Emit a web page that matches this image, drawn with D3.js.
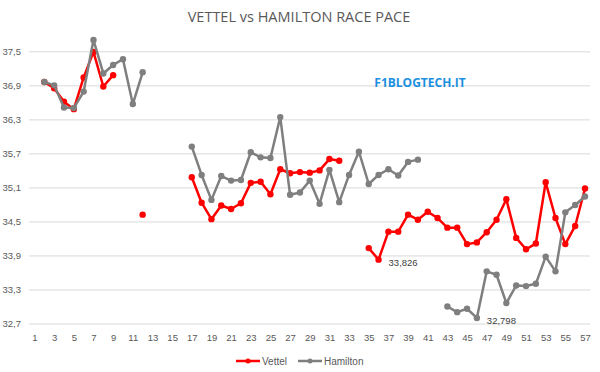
<!DOCTYPE html>
<html>
<head>
<meta charset="utf-8">
<script src="https://cdn.jsdelivr.net/npm/d3@7"></script>
<style>
  body { margin: 0; background: #fff; }
  svg { display: block; font-family: "Liberation Sans", Arial, sans-serif; }
</style>
</head>
<body>
<div id="chart"></div>
<script>
// lap numbers 1..57, null = no lap time (pit / missing)
const laps = d3.range(1, 58);

const vettel = [
    null, 36.96, 36.85, 36.61, 36.48, 37.04, 37.49, 36.88, 37.08, null,
    null, 34.62, null, null, null, null, 35.28, 34.83, 34.54, 34.78,
    34.72, 34.82, 35.18, 35.20, 34.98, 35.42, 35.35, 35.37, 35.36, 35.40,
    35.60, 35.57, null, null, 34.03, 33.826, 34.32, 34.32, 34.62, 34.53,
    34.67, 34.56, 34.39, 34.39, 34.10, 34.13, 34.31, 34.53, 34.89, 34.21,
    34.01, 34.11, 35.19, 34.56, 34.10, 34.42, 35.08
];

const hamilton = [
    null, 36.96, 36.90, 36.51, 36.50, 36.79, 37.70, 37.11, 37.26, 37.36,
    36.57, 37.13, null, null, null, null, 35.82, 35.32, 34.88, 35.30,
    35.22, 35.23, 35.72, 35.63, 35.62, 36.34, 34.97, 35.01, 35.22, 34.81,
    35.41, 34.84, 35.32, 35.73, 35.16, 35.32, 35.42, 35.31, 35.55, 35.59,
    null, null, 33.00, 32.90, 32.96, 32.798, 33.62, 33.56, 33.06, 33.37,
    33.36, 33.40, 33.88, 33.62, 34.66, 34.79, 34.94
];

const xTicks = d3.range(1, 58, 2);
const yTicks = [32.7, 33.3, 33.9, 34.5, 35.1, 35.7, 36.3, 36.9, 37.5];

// the two values Excel labelled
const labels = [
    { lap: 36, value: 33.826, text: "33,826" },
    { lap: 46, value: 32.798, text: "32,798" }
];

const series = [
    { name: "Vettel", values: vettel, color: "#ff0000" },
    { name: "Hamilton", values: hamilton, color: "#7f7f7f" }
];

const width = 600, height = 372;
const plotLeft = 29, plotRight = 590;

const svg = d3.select("#chart").append("svg")
    .attr("width", width)
    .attr("height", height);

const x = d3.scaleLinear().domain([1, 57]).range([34.5, 585]);
const y = d3.scaleLinear().domain([32.7, 38.1]).range([323.5, 17.3]);

const fmt = v => d3.format(".1f")(v).replace(".", ",");

// gridlines + y labels
const yAxis = svg.append("g")
    .attr("transform", `translate(${plotLeft},0)`)
    .call(d3.axisLeft(y).tickValues(yTicks).tickFormat(fmt)
        .tickSize(-(plotRight - plotLeft)).tickPadding(8));
yAxis.select(".domain").remove();
yAxis.selectAll(".tick line").attr("stroke", "#d9d9d9").attr("stroke-width", 1);
yAxis.selectAll(".tick text")
    .attr("fill", "#595959")
    .style("font-size", "9.5px");

// x labels
const xAxis = svg.append("g")
    .attr("transform", `translate(0,${y(32.7)})`)
    .call(d3.axisBottom(x).tickValues(xTicks).tickFormat(d3.format("d"))
        .tickSize(0).tickPadding(11));
xAxis.select(".domain").remove();
xAxis.selectAll(".tick text")
    .attr("fill", "#595959")
    .style("font-size", "9.5px");

// title
svg.append("text")
    .attr("x", 299)
    .attr("y", 22)
    .attr("text-anchor", "middle")
    .attr("fill", "#595959")
    .style("font-family", "'Open Sans', sans-serif")
    .style("font-size", "14.5px")
    .text("VETTEL vs HAMILTON RACE PACE");

// watermark
svg.append("text")
    .attr("x", 420)
    .attr("y", 87)
    .attr("text-anchor", "middle")
    .attr("fill", "#1b8fe0")
    .style("font-family", "'Open Sans', sans-serif")
    .style("font-weight", "bold")
    .style("font-size", "12px")
    .text("F1BLOGTECH.IT");

const line = d3.line()
    .defined(d => d.v != null)
    .x(d => x(d.lap))
    .y(d => y(d.v));

series.forEach(s => {
    const pts = laps.map((lap, i) => ({ lap: lap, v: s.values[i] }));
    svg.append("path")
        .datum(pts)
        .attr("fill", "none")
        .attr("stroke", s.color)
        .attr("stroke-width", 2.5)
        .attr("stroke-linejoin", "round")
        .attr("d", line);
    svg.append("g")
        .selectAll("circle")
        .data(pts.filter(d => d.v != null))
        .join("circle")
        .attr("cx", d => x(d.lap))
        .attr("cy", d => y(d.v))
        .attr("r", 3.2)
        .attr("fill", s.color);
});

// data labels
svg.append("g")
    .selectAll("text")
    .data(labels)
    .join("text")
    .attr("x", d => x(d.lap) + 10)
    .attr("y", d => y(d.value) + 6)
    .attr("fill", "#404040")
    .style("font-size", "9.5px")
    .text(d => d.text);

// legend
const legend = svg.append("g").attr("transform", "translate(236,361)");
const legendX = [0, 62];
series.forEach((s, i) => {
    const g = legend.append("g").attr("transform", `translate(${legendX[i]},0)`);
    g.append("line")
        .attr("x1", 0).attr("x2", 24)
        .attr("stroke", s.color)
        .attr("stroke-width", 2.5);
    g.append("circle")
        .attr("cx", 12).attr("r", 2.5)
        .attr("fill", s.color);
    g.append("text")
        .attr("x", 26)
        .attr("y", 3.5)
        .attr("fill", "#595959")
        .style("font-size", "10px")
        .text(s.name);
});
</script>
</body>
</html>
